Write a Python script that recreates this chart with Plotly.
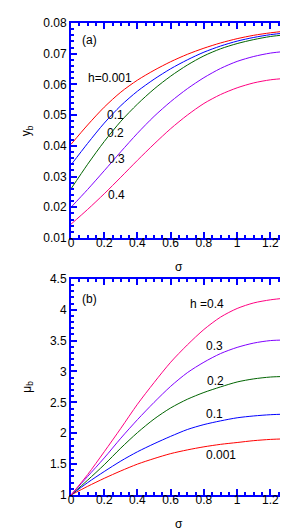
import plotly.graph_objects as go

sigma = [0.0, 0.1, 0.2, 0.3, 0.4, 0.5, 0.6, 0.7, 0.8, 0.9, 1.0, 1.1, 1.2, 1.3]
h_labels = ["0.001", "0.1", "0.2", "0.3", "0.4"]

# panel (a): y_b
yb_h0001 = [0.0405, 0.0468, 0.0526, 0.0575, 0.0614, 0.0646, 0.0674, 0.0698, 0.0718, 0.0735, 0.0749, 0.0760, 0.0768, 0.0774]
yb_h01 = [0.0338, 0.0408, 0.0474, 0.0531, 0.0578, 0.0617, 0.0651, 0.0680, 0.0705, 0.0725, 0.0741, 0.0753, 0.0762, 0.0768]
yb_h02 = [0.0260, 0.0340, 0.0414, 0.0480, 0.0536, 0.0585, 0.0627, 0.0663, 0.0693, 0.0716, 0.0733, 0.0746, 0.0756, 0.0762]
yb_h03 = [0.0200, 0.0258, 0.0319, 0.0381, 0.0441, 0.0496, 0.0544, 0.0586, 0.0622, 0.0652, 0.0675, 0.0691, 0.0702, 0.0708]
yb_h04 = [0.0145, 0.0193, 0.0244, 0.0298, 0.0353, 0.0406, 0.0456, 0.0500, 0.0538, 0.0567, 0.0589, 0.0605, 0.0615, 0.0620]

# panel (b): mu_b
mub_h0001 = [1.0, 1.14, 1.27, 1.39, 1.50, 1.59, 1.67, 1.73, 1.78, 1.82, 1.85, 1.88, 1.90, 1.91]
mub_h01 = [1.0, 1.20, 1.38, 1.55, 1.70, 1.83, 1.95, 2.06, 2.14, 2.20, 2.25, 2.28, 2.30, 2.31]
mub_h02 = [1.0, 1.24, 1.49, 1.76, 2.01, 2.23, 2.41, 2.55, 2.66, 2.75, 2.83, 2.88, 2.91, 2.92]
mub_h03 = [1.0, 1.30, 1.60, 1.92, 2.22, 2.50, 2.76, 2.98, 3.15, 3.29, 3.39, 3.46, 3.50, 3.51]
mub_h04 = [1.0, 1.33, 1.70, 2.08, 2.47, 2.82, 3.15, 3.43, 3.68, 3.88, 4.02, 4.11, 4.16, 4.19]

colors = ["#FF0000", "#0000FF", "#006400", "#8000FF", "#FF0080"]
yb_series = [yb_h0001, yb_h01, yb_h02, yb_h03, yb_h04]
mub_series = [mub_h0001, mub_h01, mub_h02, mub_h03, mub_h04]

X_RANGE = [0, 1.3]
YB_RANGE = [0.01, 0.08]
MUB_RANGE = [1, 4.5]

FONT = "Arial, Liberation Sans, sans-serif"
AX = "#0000FF"

fig = go.Figure()
for ys, c, h in zip(yb_series, colors, h_labels):
    fig.add_trace(go.Scatter(x=sigma, y=ys, mode="lines", line=dict(color=c, width=1, shape="spline", smoothing=0.8),
                             name="h=" + h, xaxis="x", yaxis="y", showlegend=False))
for ys, c, h in zip(mub_series, colors, h_labels):
    fig.add_trace(go.Scatter(x=sigma, y=ys, mode="lines", line=dict(color=c, width=1, shape="spline", smoothing=0.8),
                             name="h=" + h, xaxis="x2", yaxis="y2", showlegend=False))
# empty traces so the mirrored (top/right) tick axes are drawn
fig.add_trace(go.Scatter(x=[], y=[], xaxis="x3", yaxis="y3", showlegend=False, hoverinfo="skip"))
fig.add_trace(go.Scatter(x=[], y=[], xaxis="x4", yaxis="y4", showlegend=False, hoverinfo="skip"))

def xcfg(anchor, side="bottom", overlaying=None, labels=True):
    d = dict(range=X_RANGE, dtick=0.2, tick0=0, ticks="inside", ticklen=6, tickwidth=2,
             tickcolor=AX, showline=True, linecolor=AX, linewidth=2,
             showgrid=False, zeroline=False, anchor=anchor, side=side, ticklabelstandoff=-7,
             showticklabels=labels,
             tickfont=dict(family=FONT, size=12, color="black"),
             minor=dict(dtick=0.05, tick0=0, ticks="inside", ticklen=3, tickwidth=2, tickcolor=AX, showgrid=False))
    if overlaying:
        d["overlaying"] = overlaying
    return d

def ycfg(rng, dt, mdt, dom, anchor, fmt, side="left", overlaying=None, labels=True):
    d = dict(range=rng, dtick=dt, tick0=rng[0], ticks="inside", ticklen=6, tickwidth=2, tickcolor=AX,
             showline=True, linecolor=AX, linewidth=2, showgrid=False,
             zeroline=False, anchor=anchor, tickformat=fmt, side=side, showticklabels=labels,
             tickfont=dict(family=FONT, size=12, color="black"),
             minor=dict(dtick=mdt, tick0=rng[0], ticks="inside", ticklen=3, tickwidth=2, tickcolor=AX, showgrid=False))
    if overlaying:
        d["overlaying"] = overlaying
    else:
        d["domain"] = dom
    return d

DOM_A = [0.5445, 1.0]
DOM_B = [0.0, 0.458]

fig.update_layout(
    width=288, height=531,
    margin=dict(l=63, r=9, t=15, b=44),
    paper_bgcolor="white", plot_bgcolor="white",
    font=dict(family=FONT, size=12, color="black"),
    xaxis=xcfg("y"),
    yaxis=ycfg(YB_RANGE, 0.01, 0.002, DOM_A, "x", ".2f"),
    xaxis2=xcfg("y2"),
    yaxis2=ycfg(MUB_RANGE, 0.5, 0.1, DOM_B, "x2", ""),
    xaxis3=xcfg("y", side="top", overlaying="x", labels=False),
    yaxis3=ycfg(YB_RANGE, 0.01, 0.002, DOM_A, "x", ".2f", side="right", overlaying="y", labels=False),
    xaxis4=xcfg("y2", side="top", overlaying="x2", labels=False),
    yaxis4=ycfg(MUB_RANGE, 0.5, 0.1, DOM_B, "x2", "", side="right", overlaying="y2", labels=False),
)

ann = []
def a(text, x, y, xref, yref, **kw):
    d = dict(text=text, x=x, y=y, xref=xref, yref=yref, showarrow=False,
             xanchor="center", yanchor="middle",
             font=dict(family=FONT, size=12, color="black"))
    d.update(kw)
    ann.append(d)

# panel (a) labels
a("(a)", 0.11, 0.0744, "x", "y")
a("h=0.001", 0.233, 0.062, "x", "y")
a("0.1", 0.269, 0.050, "x", "y")
a("0.2", 0.269, 0.0441, "x", "y")
a("0.3", 0.272, 0.0358, "x", "y")
a("0.4", 0.272, 0.0241, "x", "y")
# panel (b) labels
a("(b)", 0.11, 4.17, "x2", "y2")
a("h =0.4", 0.82, 4.09, "x2", "y2")
a("0.3", 0.862, 3.41, "x2", "y2")
a("0.2", 0.871, 2.84, "x2", "y2")
a("0.1", 0.865, 2.31, "x2", "y2")
a("0.001", 0.90, 1.64, "x2", "y2")
# axis titles
a("σ", 0.5, -0.135, "x domain", "y domain")
a("σ", 0.5, -0.134, "x2 domain", "y2 domain")
a("y<sub>b</sub>", -0.2, 0.5, "x domain", "y domain", textangle=-90)
a("μ<sub>b</sub>", -0.2, 0.5, "x2 domain", "y2 domain", textangle=-90)

fig.update_layout(annotations=ann)
fig.write_html("out.html")
